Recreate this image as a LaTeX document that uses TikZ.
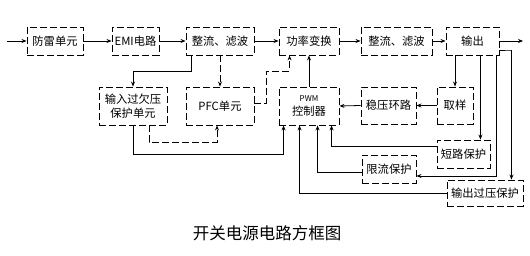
\documentclass[tikz,border=0pt]{standalone}
\usepackage{fontspec}
\newfontfamily\cjk{Noto Sans CJK SC}
\usetikzlibrary{arrows.meta}
\begin{document}
\begin{tikzpicture}[x=1pt,y=-1pt,
  box/.style={draw, line width=0.9pt, dash pattern=on 7pt off 3pt, inner sep=0pt,
    font=\cjk\fontsize{11.3}{13.5}\selectfont, align=center},
  arr/.style={line width=0.8pt, -{Stealth[length=5pt,width=4pt]}},
  darr/.style={line width=0.8pt, dash pattern=on 7pt off 3pt, -{Stealth[length=5pt,width=4pt]}}]
\useasboundingbox (0,0) rectangle (530,256);
% top row
\node[box, minimum width=56pt, minimum height=28pt] (lei) at (55,41) {防雷单元};
\node[box, minimum width=47pt, minimum height=28pt] (emi) at (135.5,41) {EMI电路};
\node[box, minimum width=68pt, minimum height=28pt] (zl1) at (220,41) {整流、滤波};
\node[box, minimum width=60pt, minimum height=28pt] (gl) at (309,41) {功率变换};
\node[box, minimum width=71pt, minimum height=28pt] (zl2) at (396.5,41) {整流、滤波};
\node[box, minimum width=53pt, minimum height=28pt] (sc) at (472.5,41) {输出};
% second row
\node[box, minimum width=68pt, minimum height=38pt] (srbh) at (133,106) {输入过欠压\\保护单元};
\node[box, minimum width=68pt, minimum height=38pt] (pfc) at (220,106) {PFC单元};
\node[box, minimum width=60pt, minimum height=38pt] (pwm) at (309,106) {\fontsize{8}{10}\selectfont PWM\\控制器};
\node[box, minimum width=55pt, minimum height=37pt] (wy) at (388.5,105.5) {稳压环路};
\node[box, minimum width=36pt, minimum height=37pt] (qy) at (455,105.5) {取样};
% protection boxes
\node[box, minimum width=53pt, minimum height=28pt] (dl) at (463.5,154) {短路保护};
\node[box, minimum width=54pt, minimum height=28pt] (xl) at (389,169) {限流保护};
\node[box, minimum width=76pt, minimum height=26pt] (scgy) at (485,193) {输出过压保护};
% caption
\node[font=\cjk\fontsize{16.5}{19}\selectfont] (cap) at (267,233) {开关电源电路方框图};
% free ends
\coordinate (in) at (7,41);
\coordinate (out) at (523,41);
% main chain
\draw[arr] (in) -- (lei);
\draw[arr] (lei) -- (emi);
\draw[arr] (emi) -- (zl1);
\draw[arr] (zl1) -- (gl);
\draw[arr] (gl) -- (zl2);
\draw[arr] (zl2) -- (sc);
\draw[arr] (sc) -- (out);
% input side
\draw[arr] ([xshift=6pt]zl1.south west) -- ++(0,16) -| (srbh.north);
\draw[darr] (zl1.south) -- (pfc.north);
\draw[darr] ([yshift=3pt]pfc.east) -- ++(12,0) -- ++(0,-32) -| ([xshift=11pt]gl.south west);
\draw[darr] ([xshift=16pt]srbh.south) -- ++(0,17) -| ([xshift=-3pt]pfc.south);
\draw[arr] (srbh.south) -- ++(0,29) -| ([xshift=5pt]pwm.south west);
% control
\draw[arr] (pwm.north) -- (gl.south);
\draw[arr] (qy.north |- sc.south) -- (qy.north);
\draw[arr] (qy.west) -- (wy.east);
\draw[arr] (wy.west) -- (pwm.east);
% output side protections
\draw[arr] ([xshift=-10pt]dl.north east |- sc.south) -- ([xshift=-10pt]dl.north east);
\draw[arr] ([xshift=-3pt]sc.south east) |- ([yshift=-7pt]xl.east);
\draw[arr] ([yshift=-9pt]sc.east) -- ++(11,0) -| ([xshift=-12pt]scgy.north east);
% feedback to PWM
\draw[arr] ([yshift=8pt]dl.west) -| ([xshift=53pt]pwm.south west);
\draw[arr] ([yshift=-3pt]xl.west) -| ([xshift=39pt]pwm.south west);
\draw[arr] (scgy.west) -| ([xshift=21pt]pwm.south west);
\end{tikzpicture}
\end{document}
